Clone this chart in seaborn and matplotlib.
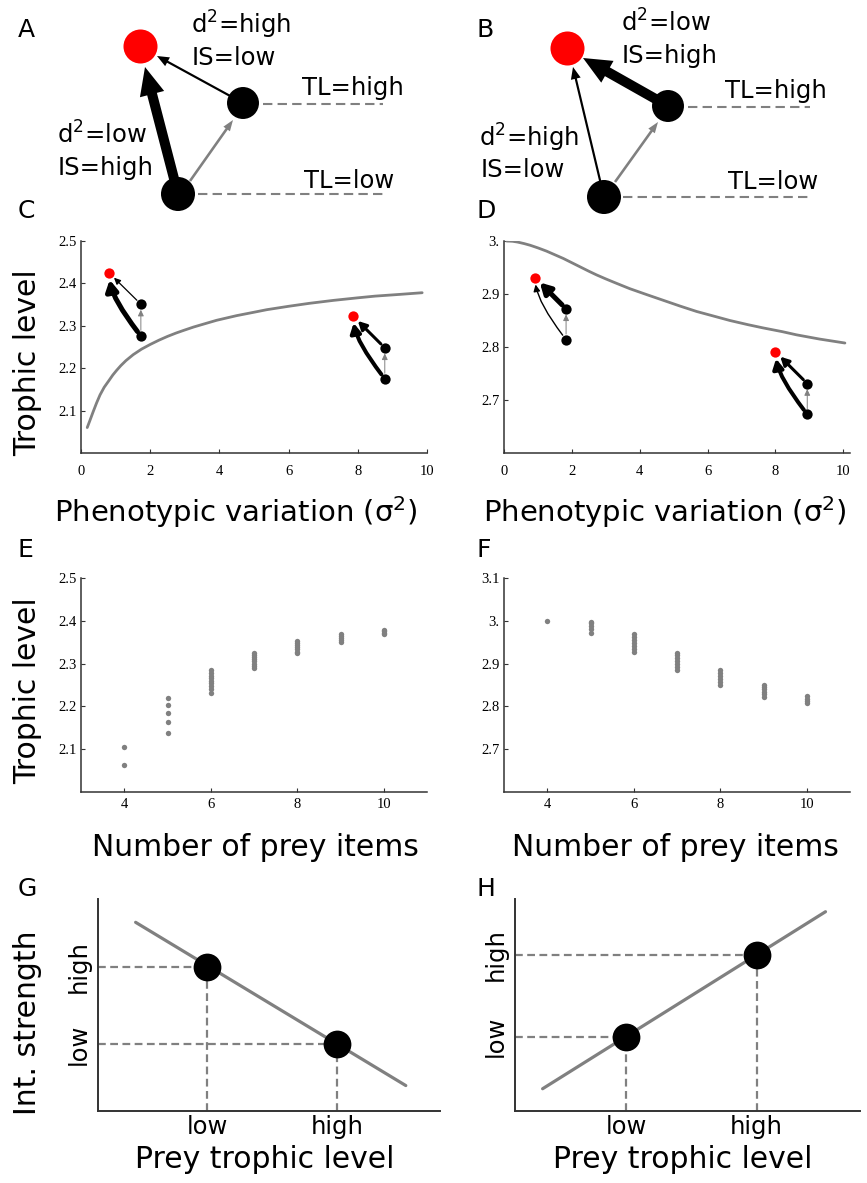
import matplotlib
matplotlib.use("Agg")
import matplotlib.pyplot as plt
import numpy as np
import pandas as pd
import seaborn as sns

# ---------------------------------------------------------------- data
# Panel C: trophic level vs phenotypic variation (increasing)
c_sigma = [0.18, 0.25, 0.35, 0.45, 0.55, 0.67, 0.8, 0.92, 1.03, 1.15, 1.3,
           1.51, 1.75, 2.0, 2.25, 2.5, 2.75, 2.96, 3.25, 3.5, 3.92, 4.5, 5.0,
           5.37, 6.0, 6.6, 7.3, 8.0, 8.5, 9.2, 9.86]
c_tl = [2.06, 2.075, 2.097, 2.118, 2.137, 2.155, 2.170, 2.184, 2.195, 2.206,
        2.218, 2.232, 2.245, 2.256, 2.266, 2.275, 2.283, 2.289, 2.297, 2.303,
        2.313, 2.324, 2.332, 2.338, 2.346, 2.353, 2.360, 2.366, 2.370, 2.374,
        2.378]
c_xticks = [0, 2, 4, 6, 8, 10]
c_yticks = [2.1, 2.2, 2.3, 2.4, 2.5]
c_yticklabels = ["2.1", "2.2", "2.3", "2.4", "2.5"]

# Panel D: trophic level vs phenotypic variation (decreasing)
d_sigma = [0.08, 0.25, 0.4, 0.6, 0.77, 1.0, 1.25, 1.5, 1.75, 2.0, 2.25, 2.5,
           2.73, 3.0, 3.2, 3.45, 3.71, 4.2, 4.7, 5.2, 5.68, 6.2, 6.66, 7.2,
           7.64, 8.2, 8.62, 9.3, 10.05]
d_tl = [3.0, 2.9995, 2.998, 2.995, 2.992, 2.987, 2.981, 2.974, 2.967, 2.959,
        2.951, 2.943, 2.936, 2.9285, 2.9232, 2.9167, 2.910, 2.899, 2.888, 2.877,
        2.867, 2.858, 2.850, 2.842, 2.836, 2.829, 2.823, 2.815, 2.8075]
d_yticks = [2.7, 2.8, 2.9, 3.0]
d_yticklabels = ["2.7", "2.8", "2.9", "3."]

# Panel E: trophic level vs number of prey items
e_items = [4, 4,
           5, 5, 5, 5, 5,
           6, 6, 6, 6, 6, 6, 6, 6, 6,
           7, 7, 7, 7, 7, 7, 7, 7,
           8, 8, 8, 8, 8, 8, 8,
           9, 9, 9, 9, 9,
           10, 10, 10, 10]
e_tl = [2.062, 2.104,
        2.137, 2.164, 2.185, 2.203, 2.219,
        2.232, 2.240, 2.247, 2.254, 2.260, 2.266, 2.272, 2.278, 2.284,
        2.290, 2.295, 2.300, 2.305, 2.310, 2.315, 2.320, 2.324,
        2.324, 2.328, 2.333, 2.338, 2.343, 2.348, 2.352,
        2.350, 2.354, 2.359, 2.364, 2.369,
        2.368, 2.372, 2.376, 2.379]
e_xticks = [4, 6, 8, 10]
e_yticks = [2.1, 2.2, 2.3, 2.4, 2.5]
e_yticklabels = ["2.1", "2.2", "2.3", "2.4", "2.5"]

# Panel F
f_items = [4,
           5, 5, 5, 5, 5,
           6, 6, 6, 6, 6, 6, 6,
           7, 7, 7, 7, 7, 7, 7,
           8, 8, 8, 8, 8, 8,
           9, 9, 9, 9, 9, 9,
           10, 10, 10, 10]
f_tl = [3.0,
        2.972, 2.980, 2.988, 2.995, 2.998,
        2.927, 2.934, 2.941, 2.948, 2.955, 2.962, 2.968,
        2.886, 2.893, 2.900, 2.907, 2.914, 2.920, 2.925,
        2.849, 2.856, 2.863, 2.870, 2.877, 2.885,
        2.822, 2.828, 2.834, 2.840, 2.846, 2.851,
        2.808, 2.813, 2.818, 2.824]
f_yticks = [2.7, 2.8, 2.9, 3.0, 3.1]
f_yticklabels = ["2.7", "2.8", "2.9", "3.", "3.1"]

# Panels G / H: conceptual interaction strength vs prey trophic level
g_line_x = [1.1, 9.0]
g_line_y = [8.9, 1.2]
g_pts_x = [3.2, 7.0]
g_pts_y = [6.8, 3.15]
h_line_x = [0.8, 9.0]
h_line_y = [1.05, 9.4]
h_pts_x = [3.22, 7.0]
h_pts_y = [3.5, 7.37]
tick_words = ["low", "high"]

# ------------------------------------------------------------- styling
sns.set_style("white")
plt.rcParams["font.family"] = ["DejaVu Sans"]
plt.rcParams["mathtext.fontset"] = "dejavusans"
plt.rcParams["text.color"] = "black"
plt.rcParams["axes.labelcolor"] = "black"
plt.rcParams["xtick.color"] = "black"
plt.rcParams["ytick.color"] = "black"

GREY = "#808080"
DARK = "#333333"
W, H = 867, 1183
fig = plt.figure(figsize=(W / 100, H / 100), dpi=100)


def px_axes(l, t, r, b):
    return fig.add_axes([l / W, 1 - b / H, (r - l) / W, (b - t) / H])


def ftext(x, y, s, **kw):
    fig.text(x / W, 1 - y / H, s, color="black", **kw)


# overlay axes in pixel coordinates for the schematic panels A / B
over = px_axes(0, 0, W, H)
over.set_xlim(0, W)
over.set_ylim(H, 0)
over.axis("off")
over.patch.set_alpha(0)


def schematic(ax, red, hi, lo, thick_from_lo, dash_hi, dash_lo,
              tip_lo, tip_hi, grey_from, grey_tip):
    dash = (0, (4.5, 2.5))
    ax.plot(dash_hi[0], dash_hi[1], color=GREY, lw=1.5, ls=dash, zorder=1)
    ax.plot(dash_lo[0], dash_lo[1], color=GREY, lw=1.5, ls=dash, zorder=1)
    thick = dict(width=10, head_width=25, head_length=28)
    thin = dict(width=2.2, head_width=10, head_length=12)
    lo_style = thick if thick_from_lo else thin
    hi_style = thin if thick_from_lo else thick
    ax.arrow(lo[0], lo[1], tip_lo[0] - lo[0], tip_lo[1] - lo[1],
             length_includes_head=True, color="black", lw=0, zorder=2, **lo_style)
    ax.arrow(hi[0], hi[1], tip_hi[0] - hi[0], tip_hi[1] - hi[1],
             length_includes_head=True, color="black", lw=0, zorder=2, **hi_style)
    ax.arrow(grey_from[0], grey_from[1], grey_tip[0] - grey_from[0],
             grey_tip[1] - grey_from[1], width=2.6, head_width=8,
             head_length=11, length_includes_head=True, color=GREY, lw=0,
             zorder=2)
    ax.scatter([red[0]], [red[1]], s=600, color="#ff0000", lw=0, zorder=3)
    ax.scatter([hi[0], lo[0]], [hi[1], lo[1]], s=[530, 600], color="black",
               lw=0, zorder=3)


# Panel A
schematic(over, red=(140, 46), hi=(243, 103), lo=(178, 194), thick_from_lo=True,
          dash_hi=([263, 383], [104, 104]), dash_lo=([198, 383], [194, 194]),
          tip_lo=(145, 67), tip_hi=(157, 56),
          grey_from=(190, 181), grey_tip=(233, 120))
# Panel B
schematic(over, red=(567, 48), hi=(668, 106), lo=(604, 197), thick_from_lo=False,
          dash_hi=([688, 810], [107, 107]), dash_lo=([623, 810], [197, 197]),
          tip_lo=(573, 67), tip_hi=(583, 58),
          grey_from=(615, 182), grey_tip=(658, 122))

TS = 17.5
for x, y, s in [(191, 34, "d$^2$=high"), (192, 65, "IS=low"),
                (302, 95, "TL=high"), (57, 144, "d$^2$=low"),
                (58, 175, "IS=high"), (304, 188, "TL=low"),
                (621, 32, "d$^2$=low"), (622, 63, "IS=high"),
                (725, 98, "TL=high"), (479, 147, "d$^2$=high"),
                (481, 177, "IS=low"), (728, 189, "TL=low")]:
    ftext(x, y, s, fontsize=TS, ha="left", va="baseline")

for x, y, s in [(18, 37, "A"), (476, 37, "B"), (18, 218, "C"), (476, 218, "D"),
                (18, 557, "E"), (476, 557, "F"), (18, 896, "G"), (476, 896, "H")]:
    ftext(x, y, s, fontsize=18, ha="left", va="baseline")


def style_num(ax, xlim, ylim, xticks, yticks, yticklabels, xpad):
    ax.set_xlim(*xlim)
    ax.set_ylim(*ylim)
    ax.set_xticks(xticks)
    ax.set_xticklabels([str(t) for t in xticks])
    ax.set_yticks(yticks)
    ax.set_yticklabels(yticklabels)
    for lab in ax.get_xticklabels() + ax.get_yticklabels():
        lab.set_fontfamily("Liberation Serif")
        lab.set_fontsize(10.5)
        lab.set_color("black")
    for s in ["top", "right"]:
        ax.spines[s].set_visible(False)
    for s in ["left", "bottom"]:
        ax.spines[s].set_color(DARK)
        ax.spines[s].set_linewidth(1.1)
    ax.tick_params(direction="in", length=3, width=0.8, color=DARK,
                   left=True, bottom=True)
    ax.tick_params(axis="x", pad=xpad)
    ax.tick_params(axis="y", pad=3)
    ax.set_xlabel("")
    ax.set_ylabel("")
    ax.patch.set_alpha(0)


def arrow_style(w):
    return f"-|>,head_length={3 + 0.9 * w:.2f},head_width={1.3 + 0.6 * w:.2f}"


def food_inset(ax, red, prey_x, low_y, high_y, w_low, w_high):
    ax.annotate("", xy=red, xytext=(prey_x, low_y),
                arrowprops=dict(arrowstyle=arrow_style(w_low), mutation_scale=1,
                                lw=w_low, color="black", shrinkA=4, shrinkB=5,
                                connectionstyle="angle3,angleA=128,angleB=90"),
                zorder=4)
    ax.annotate("", xy=red, xytext=(prey_x, high_y),
                arrowprops=dict(arrowstyle=arrow_style(w_high), mutation_scale=1,
                                lw=w_high, color="black", shrinkA=4, shrinkB=5),
                zorder=4)
    ax.annotate("", xy=(prey_x, high_y), xytext=(prey_x, low_y),
                arrowprops=dict(arrowstyle=arrow_style(0.7), mutation_scale=1,
                                lw=0.7, color=GREY, shrinkA=4, shrinkB=4),
                zorder=4)
    ax.scatter([red[0]], [red[1]], s=55, color="#ff0000", lw=0, zorder=5)
    ax.scatter([prey_x, prey_x], [low_y, high_y], s=55, color="black", lw=0,
               zorder=5)


# Panel C
axC = px_axes(81, 241, 427, 453)
sns.lineplot(x=c_sigma, y=c_tl, ax=axC, color=GREY, lw=2, sort=False)
style_num(axC, (0, 10), (2.0, 2.5), c_xticks, c_yticks, c_yticklabels, 8.5)
food_inset(axC, (0.81, 2.425), 1.73, 2.276, 2.351, 3.6, 0.9)
food_inset(axC, (7.86, 2.323), 8.78, 2.175, 2.248, 2.9, 2.2)

# Panel D
axD = px_axes(504, 241, 850, 453)
sns.lineplot(x=d_sigma, y=d_tl, ax=axD, color=GREY, lw=2, sort=False)
style_num(axD, (0, 10.2), (2.6, 3.0), c_xticks, d_yticks, d_yticklabels, 8.5)
food_inset(axD, (0.91, 2.931), 1.83, 2.814, 2.872, 1.0, 3.6)
food_inset(axD, (8.0, 2.791), 8.94, 2.673, 2.731, 2.9, 2.2)

# Panel E
axE = px_axes(81, 578, 427, 792)
sns.scatterplot(x=e_items, y=e_tl, ax=axE, color=GREY, s=15, linewidth=0)
style_num(axE, (3, 11), (2.0, 2.5), e_xticks, e_yticks, e_yticklabels, 4)

# Panel F
axF = px_axes(504, 578, 850, 792)
sns.scatterplot(x=f_items, y=f_tl, ax=axF, color=GREY, s=15, linewidth=0)
style_num(axF, (3, 11), (2.6, 3.1), e_xticks, f_yticks, f_yticklabels, 4)


def concept(ax, lx, ly, px, py, ylabels):
    dash = (0, (3.5, 2))
    for x, y in zip(px, py):
        ax.plot([0, x], [y, y], color=GREY, lw=1.6, ls=dash, zorder=1)
        ax.plot([x, x], [0, y], color=GREY, lw=1.6, ls=dash, zorder=1)
    sns.lineplot(x=lx, y=ly, ax=ax, color=GREY, lw=2.3, zorder=2)
    sns.scatterplot(x=px, y=py, ax=ax, color="black", s=400, linewidth=0,
                    zorder=3)
    ax.set_xlim(0, 10)
    ax.set_ylim(0, 10)
    ax.set_xticks(px)
    ax.set_xticklabels(tick_words, fontsize=17.5, color="black")
    ax.set_yticks(py)
    ax.set_yticklabels(ylabels, fontsize=17.5, rotation=90, va="center",
                       color="black")
    ax.tick_params(length=0, left=True, bottom=True)
    ax.tick_params(axis="x", pad=3)
    ax.tick_params(axis="y", pad=5)
    for s in ["top", "right"]:
        ax.spines[s].set_visible(False)
    for s in ["left", "bottom"]:
        ax.spines[s].set_color(DARK)
        ax.spines[s].set_linewidth(1.4)
    ax.set_xlabel("")
    ax.set_ylabel("")
    ax.patch.set_alpha(0)


axG = px_axes(98, 899, 440, 1111)
concept(axG, g_line_x, g_line_y, g_pts_x, g_pts_y, ["high", "low"])
axH = px_axes(515, 899, 860, 1111)
concept(axH, h_line_x, h_line_y, h_pts_x, h_pts_y, ["low", "high"])

# axis titles
LS = 21.5
ftext(236, 512, "Phenotypic variation (σ$^2$)", fontsize=21, ha="center", va="center")
ftext(665, 512, "Phenotypic variation (σ$^2$)", fontsize=21, ha="center", va="center")
ftext(255, 848, "Number of prey items", fontsize=LS, ha="center", va="center")
ftext(675, 848, "Number of prey items", fontsize=LS, ha="center", va="center")
ftext(265, 1160, "Prey trophic level", fontsize=LS, ha="center", va="center")
ftext(683, 1160, "Prey trophic level", fontsize=LS, ha="center", va="center")
ftext(28, 363, "Trophic level", fontsize=LS, ha="center", va="center", rotation=90)
ftext(28, 691, "Trophic level", fontsize=LS, ha="center", va="center", rotation=90)
ftext(28, 1023, "Int. strength", fontsize=LS, ha="center", va="center", rotation=90)

fig.savefig("out.png", dpi=100)
